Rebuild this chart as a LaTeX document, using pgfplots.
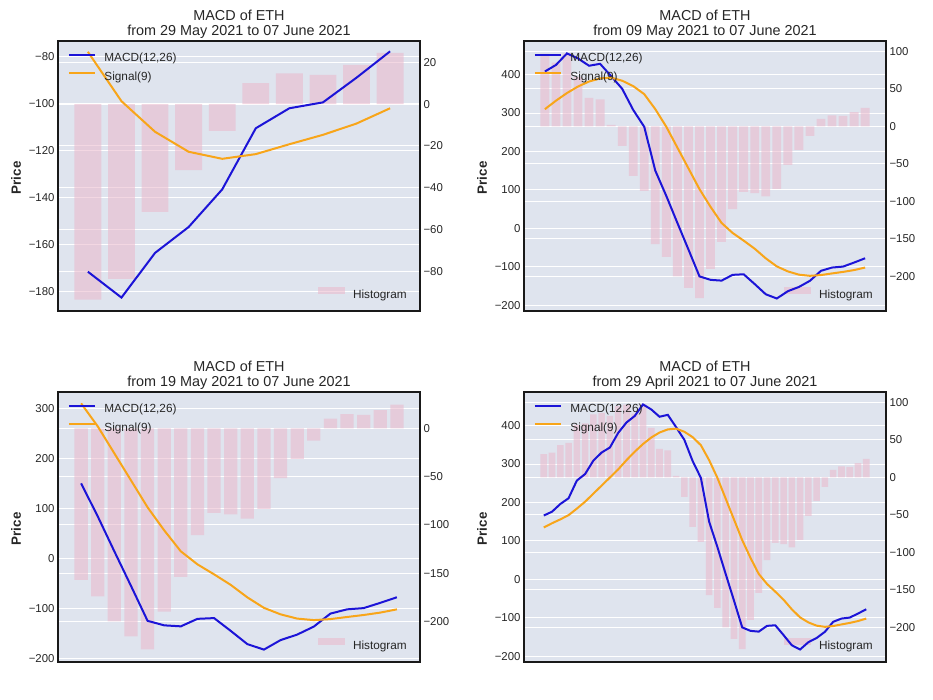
\documentclass[border=0pt]{standalone}
\usepackage{fontspec}
\setmainfont{Liberation Sans}
\usepackage{pgfplots}
\usepackage{pgfplotstable}
\pgfplotsset{compat=1.18}
\definecolor{bg}{RGB}{223,228,238}
\definecolor{barc}{RGB}{234,183,203}
\definecolor{macdc}{RGB}{28,20,215}
\definecolor{sigc}{RGB}{248,165,25}
\definecolor{txt}{RGB}{38,38,38}

\pgfplotstableread{
g macd sig hist
0 166 135 31
1 176 146 33
2 196 156 43
3 211 167 46
4 257 184 70
5 274 202 72
6 309 223 84
7 330 244 86
8 343 265 82
9 381 286 95
10 408 310 97
11 425 332 85
12 455 352 97.4
13 442 369 66
14 423 382 38
15 428 390 36
16 396 392 2
17 363 384 -26
18 308 370 -66
19 264 349 -86
20 150 310 -157
21 84 264 -174
22 14 210 -200
23 -55 156 -215.5
24 -125 102 -229
25 -134 56 -190
26 -136 14 -154
27 -121 -12 -110.5
28 -119.5 -32 -87.5
29 -145 -53 -89
30 -171.5 -78 -93.5
31 -182.5 -99 -83.5
32 -163.5 -112 -51.5
33 -152.5 -120.5 -31.5
34 -136.5 -123.5 -12.8
35 -110.5 -121.5 10
36 -102 -117.3 14.7
37 -99.5 -113.3 14
38 -89 -108.5 18.8
39 -77.8 -102 24.5
}\ethdata

\pgfplotsset{
  panel/.style={scale only axis, width=362pt, height=270pt, anchor=south west,
    xtick=\empty, major tick length=0pt,
    tick label style={font=\fontsize{11.4}{13}\selectfont, text=txt},
    axis line style={draw=none}, clip=true},
  gridax/.style={ymajorgrids, major grid style={white, line width=1pt}},
  lineleg/.style={legend image code/.code={\draw[##1, line width=2.2pt] (0pt,4.2pt) -- (26pt,4.2pt);}},
  barleg/.style={legend image code/.code={\fill[barc, fill opacity=0.55] (0pt,0.8pt) rectangle (27pt,8pt);}},
}

% #1 position name, #2 offset, #3 xmin, #4 xmax, #5 left y opts, #6 right y opts, #7 subtitle
\newcommand{\panel}[7]{%
  \begin{axis}[panel, at={(#1)}, xmin=#3, xmax=#4, #5, gridax,
      axis background/.style={fill=bg},
      title={MACD of ETH\\#7},
      title style={at={(axis description cs:0.5,1)}, anchor=south, yshift=-4pt,
        inner sep=0pt, align=center, font=\fontsize{14.4}{15.7}\selectfont, text=txt},
      ylabel={Price},
      ylabel style={at={(axis description cs:-0.116,0.493)}, anchor=center,
        font=\bfseries\fontsize{13.4}{15}\selectfont, text=txt}]
    \addplot[draw=none] coordinates {(0,0)};
  \end{axis}
  \begin{axis}[panel, at={(#1)}, xmin=#3, xmax=#4, #6, gridax, yticklabel pos=right,
      legend style={at={(1,0)}, anchor=south east, xshift=-8.5pt, yshift=10pt,
        draw=none, fill=none, inner sep=0pt, column sep=4pt,
        font=\fontsize{11.8}{13}\selectfont, text=txt,
        nodes={inner xsep=4.5pt, inner ysep=0pt, text height=8.5pt, text depth=2.5pt}},
      legend cell align=left]
    \addplot[ybar, bar width=0.8, bar shift=0pt, draw=none, fill=barc, fill opacity=0.55,
      skip coords between index={0}{#2}, barleg]
      table[x expr=\thisrow{g}-#2, y=hist] {\ethdata};
    \addlegendentry{Histogram}
  \end{axis}
  \begin{axis}[panel, at={(#1)}, xmin=#3, xmax=#4, #5, ytick=\empty,
      axis line style={draw=black!90, line width=1.6pt},
      legend style={at={(0,1)}, anchor=north west, xshift=9.5pt, yshift=-12.3pt,
        draw=none, fill=none, inner sep=0pt, row sep=7.2pt, column sep=4pt,
        font=\fontsize{11.8}{13}\selectfont, text=txt,
        nodes={inner xsep=4.5pt, inner ysep=0pt, text height=8.5pt, text depth=2.5pt}},
      legend cell align=left, lineleg]
    \addplot[macdc, line width=2pt, skip coords between index={0}{#2}]
      table[x expr=\thisrow{g}-#2, y=macd] {\ethdata};
    \addlegendentry{MACD(12,26)}
    \addplot[sigc, line width=2pt, skip coords between index={0}{#2}]
      table[x expr=\thisrow{g}-#2, y=sig] {\ethdata};
    \addlegendentry{Signal(9)}
  \end{axis}%
}

\begin{document}
\begin{tikzpicture}
\coordinate (pA) at (58pt,389pt);
\coordinate (pB) at (524pt,389pt);
\coordinate (pC) at (58pt,38pt);
\coordinate (pD) at (524pt,38pt);
\panel{pA}{30}{-0.89}{9.89}
  {ymin=-188.2, ymax=-73.4, ytick={-180,-160,-140,-120,-100,-80},
   yticklabels={−180,−160,−140,−120,−100,−80}}
  {ymin=-98.9, ymax=30.2, ytick={-80,-60,-40,-20,0,20},
   yticklabels={−80,−60,−40,−20,0,20}}
  {from 29 May 2021 to 07 June 2021}
\panel{pB}{10}{-1.89}{30.89}
  {ymin=-215, ymax=487.4, ytick={-200,-100,0,100,200,300,400},
   yticklabels={−200,−100,0,100,200,300,400}}
  {ymin=-246.2, ymax=113.8, ytick={-200,-150,-100,-50,0,50,100},
   yticklabels={−200,−150,−100,−50,0,50,100}}
  {from 09 May 2021 to 07 June 2021}
\panel{pC}{20}{-1.39}{20.39}
  {ymin=-207.3, ymax=332.7, ytick={-200,-100,0,100,200,300},
   yticklabels={−200,−100,0,100,200,300}}
  {ymin=-242.1, ymax=37.7, ytick={-200,-150,-100,-50,0},
   yticklabels={−200,−150,−100,−50,0}}
  {from 19 May 2021 to 07 June 2021}
\panel{pD}{0}{-2.39}{41.39}
  {ymin=-215, ymax=487.4, ytick={-200,-100,0,100,200,300,400},
   yticklabels={−200,−100,0,100,200,300,400}}
  {ymin=-246.2, ymax=113.8, ytick={-200,-150,-100,-50,0,50,100},
   yticklabels={−200,−150,−100,−50,0,50,100}}
  {from 29 April 2021 to 07 June 2021}
\pgfresetboundingbox
\path[use as bounding box] (0pt,0pt) rectangle (933pt,700pt);
\end{tikzpicture}
\end{document}
